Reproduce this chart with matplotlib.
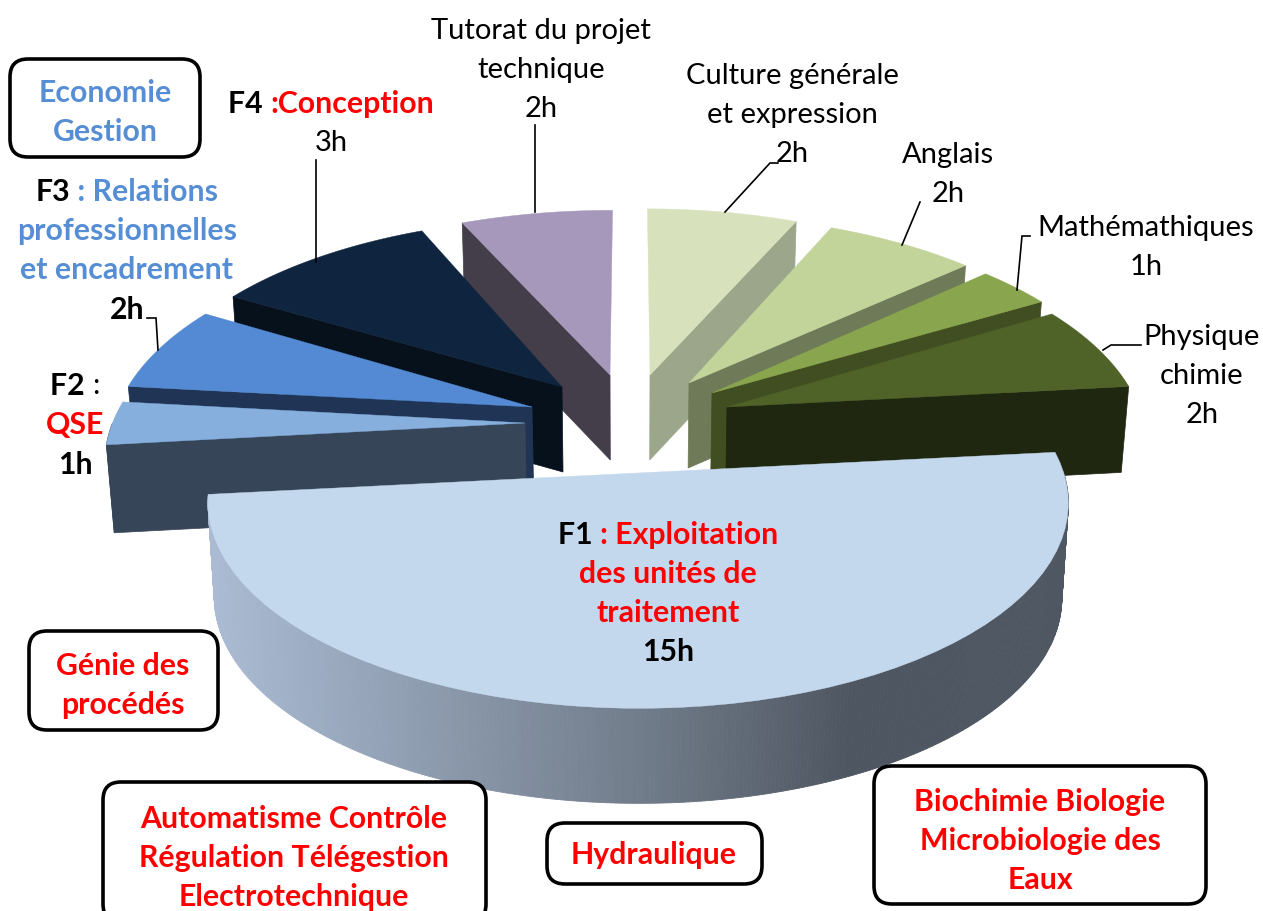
import numpy as np
import matplotlib
matplotlib.use("Agg")
import matplotlib.pyplot as plt
from matplotlib.patches import FancyBboxPatch, Polygon

plt.rcParams["font.family"] = ["Lato", "DejaVu Sans"]

# data, clockwise from the top of the pie
subjects = ["Culture", "Anglais", "Maths", "Physique", "F1", "F2", "F3", "F4", "Tutorat"]
hours = [2, 2, 1, 2, 15, 1, 2, 3, 2]

top_colors = ["#d7e2bd", "#c2d49a", "#89a54e", "#4f6228", "#c3d7ed", "#86afde", "#538ad3", "#0f243e", "#a698bb"]
side_colors = ["#9ca68a", "#6f7a58", "#414e21", "#1f2710", "#4e5762", "#374558", "#203556", "#07111c", "#443e4a"]

# where each slice's tip lands on screen, plus radius scales and thickness
tips = {
    "Culture": (650, 375, 1.01, 1.0, 85),
    "Anglais": (689, 383, 1.01, 1.0, 85),
    "Maths": (712, 393, 1.0, 1.0, 82),
    "Physique": (727, 407, 0.98, 1.0, 86),
    "F1": (638, 473, 0.965, 0.913, 95),
    "F2": (525, 423, 0.97, 1.0, 88),
    "F3": (532, 407, 0.985, 1.0, 75),
    "F4": (562, 387, 1.0, 1.0, 85),
    "Tutorat": (610, 375, 1.02, 0.99, 85),
}
draw_order = ["Tutorat", "Culture", "F4", "Anglais", "Maths", "F3", "Physique", "F2", "F1"]

RED = "#ff0000"
BLUE = "#558ed5"
BLACK = "#000000"

# each line is a list of (text, colour, bold) runs, with its centre
labels = [
    (541, 31, [("Tutorat du projet", BLACK, False)]),
    (541, 70, [("technique", BLACK, False)]),
    (541, 109, [("2h", BLACK, False)]),
    (792, 76, [("Culture générale", BLACK, False)]),
    (792, 115, [("et expression", BLACK, False)]),
    (792, 154, [("2h", BLACK, False)]),
    (948, 155, [("Anglais", BLACK, False)]),
    (948, 194, [("2h", BLACK, False)]),
    (1146, 228, [("Mathémathiques", BLACK, False)]),
    (1146, 267, [("1h", BLACK, False)]),
    (1202, 337, [("Physique", BLACK, False)]),
    (1202, 376, [("chimie", BLACK, False)]),
    (1202, 415, [("2h", BLACK, False)]),
    (331, 104, [("F4 ", BLACK, True), (":Conception", RED, True)]),
    (331, 143, [("3h", BLACK, False)]),
    (127, 192, [("F3", BLACK, True), (" : Relations", BLUE, True)]),
    (127, 231, [("professionnelles", BLUE, True)]),
    (127, 270, [("et encadrement", BLUE, True)]),
    (127, 310, [("2h", BLACK, True)]),
    (75, 386, [("F2 ", BLACK, True), (":", BLACK, False)]),
    (75, 425, [("QSE", RED, True)]),
    (75, 465, [("1h", BLACK, True)]),
    (668, 535, [("F1 ", BLACK, True), (": Exploitation", RED, True)]),
    (668, 574, [("des unités de", RED, True)]),
    (668, 613, [("traitement", RED, True)]),
    (668, 652, [("15h", BLACK, True)]),
    (105, 93, [("Economie", BLUE, True)]),
    (105, 132, [("Gestion", BLUE, True)]),
    (123, 666, [("Génie des", RED, True)]),
    (123, 705, [("procédés", RED, True)]),
    (294, 819, [("Automatisme Contrôle", RED, True)]),
    (294, 858, [("Régulation Télégestion", RED, True)]),
    (294, 897, [("Electrotechnique", RED, True)]),
    (654, 855, [("Hydraulique", RED, True)]),
    (1040, 802, [("Biochimie Biologie", RED, True)]),
    (1040, 841, [("Microbiologie des", RED, True)]),
    (1040, 880, [("Eaux", RED, True)]),
]

boxes = [(10, 59, 190, 98), (29, 631, 189, 99), (103, 782, 383, 140), (547, 823, 215, 61), (874, 766, 332, 138)]

leaders = [
    ([535, 535], [125, 212]),
    ([316, 316], [160, 262]),
    ([778, 770, 725], [163, 163, 212]),
    ([920, 920, 902], [202, 202, 245]),
    ([1030, 1022, 1017], [236, 236, 290]),
    ([1141, 1111, 1103], [345, 345, 350]),
    ([147, 156, 158], [318, 318, 350]),
]

# perspective of the pie plane
CX, CY = 630, 400
A, B, K = 418, 198, 0.15
REGULAR_SIZE = 21
BOLD_SIZE = 21.8


def project(u, v):
    w = 1 + K * v
    return CX + A * u / w, CY - B * v / w


def unproject(sx, sy):
    s = CY - sy
    v = s / (B - s * K)
    return (sx - CX) * (1 + K * v) / A, v


def drop(x, y, depth):
    return CX + (np.asarray(x) - CX) * 0.985, np.asarray(y) + depth


fig = plt.figure(figsize=(12.63, 9.11), dpi=100)
ax = fig.add_axes([0, 0, 1, 1])
ax.set_xlim(0, 1263)
ax.set_ylim(911, 0)
ax.axis("off")

edges = np.cumsum([0] + hours) * 360.0 / sum(hours)
wall_x = [210, 650, 850, 1075]
wall_rgb = np.array([matplotlib.colors.to_rgb(c) for c in ["#aabbd3", "#707b89", "#4e5661", "#4e5762"]])

for name in draw_order:
    i = subjects.index(name)
    t0, t1 = edges[i], edges[i + 1]
    tx, ty, ru, rv, depth = tips[name]
    u0, v0 = unproject(tx, ty)
    t = np.radians(np.linspace(t0, t1, 60))
    ax_x, ax_y = project(u0 + ru * np.sin(t), v0 + rv * np.cos(t))
    bx, by = drop(ax_x, ax_y, depth)
    tip_bx, tip_by = drop(tx, ty, depth)

    # cut face that looks at the viewer
    if name != "F1":
        k = -1 if t0 < 180 else 0
        ax.add_patch(Polygon([(tx, ty), (ax_x[k], ax_y[k]), (bx[k], by[k]), (tip_bx, tip_by)],
                             closed=True, fc=side_colors[i], ec=side_colors[i], lw=0.5))

    # outer wall, only the front half of the circle shows
    front = (np.degrees(t) >= 90) & (np.degrees(t) <= 270)
    if name == "F1":
        tf = np.radians(np.linspace(t0, t1, 360))
        fx, fy = project(u0 + ru * np.sin(tf), v0 + rv * np.cos(tf))
        gx, gy = drop(fx, fy, depth)
        for j in range(len(tf) - 1):
            mid = (fx[j] + fx[j + 1]) / 2
            col = [np.interp(mid, wall_x, wall_rgb[:, c]) for c in range(3)]
            ax.add_patch(Polygon([(fx[j], fy[j]), (fx[j + 1], fy[j + 1]), (gx[j + 1], gy[j + 1]), (gx[j], gy[j])],
                                 closed=True, fc=col, ec=col, lw=0.6))
    elif front.sum() > 1:
        ax.add_patch(Polygon(list(zip(ax_x[front], ax_y[front])) + list(zip(bx[front], by[front]))[::-1],
                             closed=True, fc=side_colors[i], ec=side_colors[i], lw=0.5))

    # top face
    ax.add_patch(Polygon([(tx, ty)] + list(zip(ax_x, ax_y)), closed=True, fc=top_colors[i], ec=top_colors[i], lw=0.3))

for lx, ly in leaders:
    ax.plot(lx, ly, color="black", lw=1.2, solid_joinstyle="miter")

for x, y, w, h in boxes:
    ax.add_patch(FancyBboxPatch((x + 18, y + 18), w - 36, h - 36, boxstyle="round,pad=18,rounding_size=18",
                                fc="white", ec="black", lw=2.6, clip_on=True, zorder=3))

fig.canvas.draw()
renderer = fig.canvas.get_renderer()
for cx, cy, runs in labels:
    parts = [ax.text(0, cy, txt.replace(" ", "\u00a0"), color=col, fontsize=BOLD_SIZE if bold else REGULAR_SIZE,
                     fontweight="bold" if bold else "normal", va="center", ha="left", zorder=5)
             for txt, col, bold in runs]
    widths = [p.get_window_extent(renderer).width for p in parts]
    x = cx - sum(widths) / 2
    for p, wd in zip(parts, widths):
        p.set_x(x)
        x += wd

fig.savefig("out.png", dpi=100)
